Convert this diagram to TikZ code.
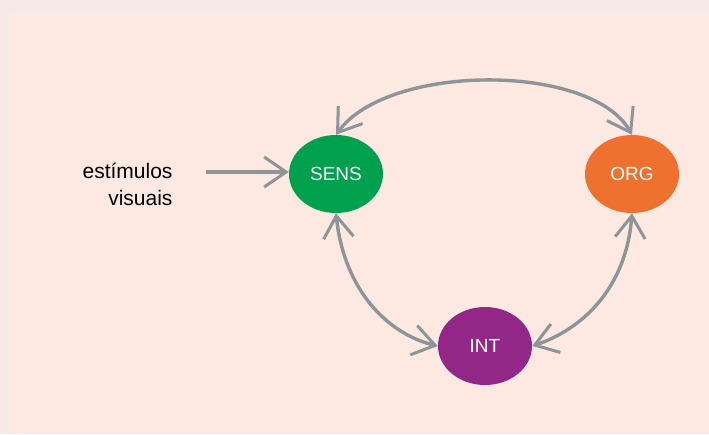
\documentclass[tikz,border=0pt]{standalone}
\usepackage{fontspec}
\setmainfont{Liberation Sans}
\usetikzlibrary{arrows.meta,shapes.geometric}
\definecolor{framebg}{HTML}{F5EAE5}
\definecolor{panelbg}{HTML}{FDE8E2}
\definecolor{senscolor}{HTML}{00A14E}
\definecolor{orgcolor}{HTML}{F0702F}
\definecolor{intcolor}{HTML}{922787}
\definecolor{linkcolor}{HTML}{8D9598}
\tikzset{
  stage/.style={ellipse,minimum width=94pt,minimum height=78pt,inner sep=0pt,
    text=white,font=\fontsize{19}{22}\selectfont},
  barb/.tip={Straight Barb[length=22pt,width=30pt,line width=3pt]},
  link/.style={linkcolor,line width=3.4pt,barb-barb},
  feed/.style={linkcolor,line width=3.4pt,-barb}
}
\begin{document}
\begin{tikzpicture}[x=1pt,y=-1pt]
  \fill[framebg] (0,0) rectangle (709,434);
  \fill[panelbg] (9,13) rectangle (709,434);
  \useasboundingbox (0,0) rectangle (709,434);
  \node[stage,fill=senscolor] (sens) at (336,174) {SENS};
  \node[stage,fill=orgcolor] (org) at (632,174) {ORG};
  \node[stage,fill=intcolor] (int) at (485,346) {INT};
  \node[align=right,anchor=east,font=\fontsize{21}{27}\selectfont] (stim) at (176,184) {estímulos\\visuais};
  \coordinate (stimend) at (206,172);
  \draw[feed] (stimend) -- (sens.west |- stimend);
  \draw[link] (sens.north) .. controls +(52,-72) and +(-40,-72) .. (org.north);
  \draw[link] (sens.south) .. controls +(8,77) and +(-50,-12) .. (int.west);
  \draw[link] (org.south) .. controls +(-6,77) and +(48,-16) .. (int.east);
\end{tikzpicture}
\end{document}
